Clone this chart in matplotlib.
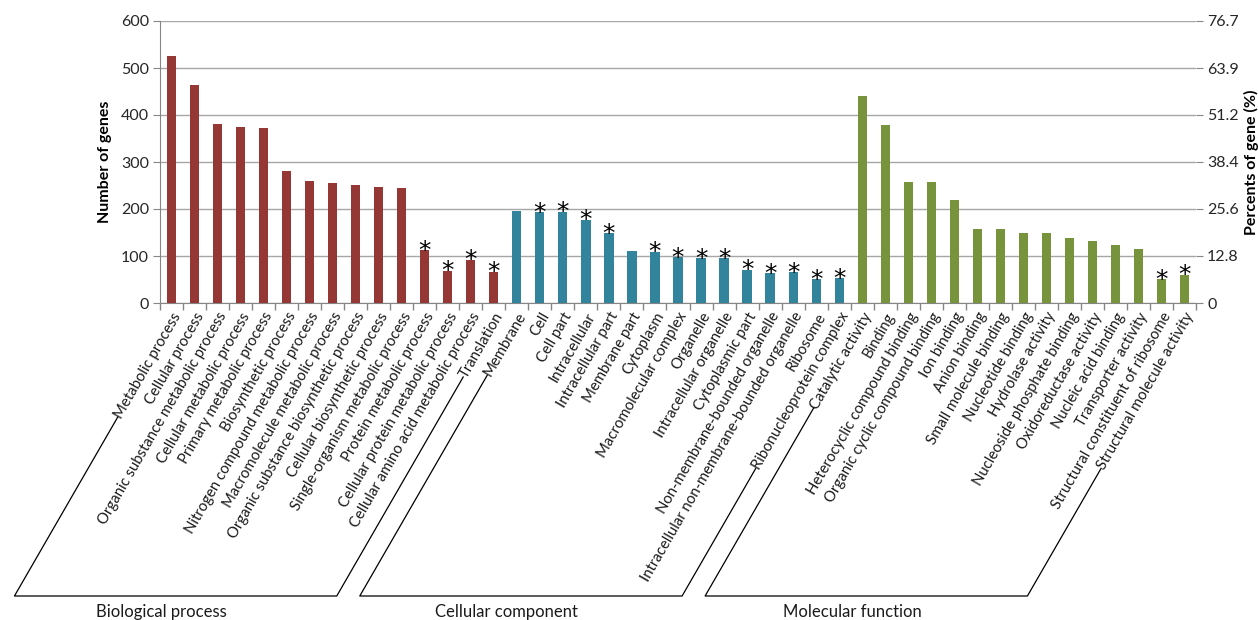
import matplotlib
matplotlib.use("Agg")
import matplotlib.pyplot as plt
from matplotlib.lines import Line2D
import numpy as np

plt.rcParams['font.family'] = ['Lato', 'DejaVu Sans']

# GO categories and gene counts
bp_terms = ["Metabolic process", "Cellular process", "Organic substance metabolic process",
            "Cellular metabolic process", "Primary metabolic process", "Biosynthetic process",
            "Nitrogen compound metabolic process", "Macromolecule metabolic process",
            "Organic substance biosynthetic process", "Cellular biosynthetic process",
            "Single-organism metabolic process", "Protein metabolic process",
            "Cellular protein metabolic process", "Cellular amino acid metabolic process",
            "Translation"]
bp_counts = [526, 463, 380, 374, 372, 280, 259, 256, 252, 246, 244, 112, 69, 92, 67]
bp_signif = [False] * 11 + [True] * 4

cc_terms = ["Membrane", "Cell", "Cell part", "Intracellular", "Intracellular part",
            "Membrane part", "Cytoplasm", "Macromolecular complex", "Organelle",
            "Intracellular organelle", "Cytoplasmic part", "Non-membrane-bounded organelle",
            "Intracellular non-membrane-bounded organelle", "Ribosome",
            "Ribonucleoprotein complex"]
cc_counts = [196, 193, 194, 177, 149, 111, 109, 98, 95, 96, 71, 64, 65, 51, 53]
cc_signif = [False, True, True, True, True, False, True, True, True, True,
             True, True, True, True, True]

mf_terms = ["Catalytic activity", "Binding", "Heterocyclic compound binding",
            "Organic cyclic compound binding", "Ion binding", "Anion binding",
            "Small molecule binding", "Nucleotide binding", "Hydrolase activity",
            "Nucleoside phosphate binding", "Oxidoreductase activity",
            "Nucleic acid binding", "Transporter activity",
            "Structural constituent of ribosome", "Structural molecule activity"]
mf_counts = [440, 379, 257, 257, 220, 158, 157, 148, 148, 139, 132, 124, 115, 51, 60]
mf_signif = [False] * 13 + [True, True]

group_names = ["Biological process", "Cellular component", "Molecular function"]
group_colors = ["#953735", "#31849B", "#77933C"]

left_ticks = [0, 100, 200, 300, 400, 500, 600]
right_ticks = [0, 12.8, 25.6, 38.4, 51.2, 63.9, 76.7]
right_tick_labels = ["0", "12.8", "25.6", "38.4", "51.2", "63.9", "76.7"]

groups = [(bp_terms, bp_counts, bp_signif),
          (cc_terms, cc_counts, cc_signif),
          (mf_terms, mf_counts, mf_signif)]

W, H = 1258, 620
fig = plt.figure(figsize=(W / 100, H / 100), dpi=100)
ax = fig.add_axes([160 / W, 1 - 303 / H, (1196 - 160) / W, (303 - 21) / H])

grid_c = "#a6a6a6"
axis_c = "#868686"
text_c = "#1a1a1a"

terms_all, colors_all, counts_all, sig_all = [], [], [], []
for (terms, counts, sig), c in zip(groups, group_colors):
    terms_all += terms
    counts_all += counts
    sig_all += sig
    colors_all += [c] * len(terms)

x = np.arange(len(terms_all))
ax.bar(x, counts_all, width=0.4, color=colors_all, zorder=3)

for xi, v, s in zip(x, counts_all, sig_all):
    if s:
        ax.annotate("*", (xi, v), xytext=(0, -5.5), textcoords="offset points",
                    ha="center", va="baseline", fontsize=18, color="black",
                    family="DejaVu Sans", zorder=4)

ax.set_xlim(-0.5, len(terms_all) - 0.5)
ax.set_ylim(0, 600)
ax.set_yticks(left_ticks)
ax.yaxis.grid(True, color=grid_c, linewidth=1.0, zorder=0)
ax.tick_params(axis="y", labelsize=11.5, length=5, color=axis_c, pad=3, labelcolor="#262626")

ax.set_xticks(np.arange(-0.5, len(terms_all), 1.0))
ax.set_xticklabels([])
ax.tick_params(axis="x", which="major", length=5, color=axis_c, width=1.0)
ax.set_xticks(x, minor=True)
ax.set_xticklabels(terms_all, minor=True, rotation=60, ha="right",
                   rotation_mode="anchor", va="top", fontsize=10.7, color=text_c)
ax.tick_params(axis="x", which="minor", length=0, pad=5)

for side in ["top", "right"]:
    ax.spines[side].set_visible(False)
ax.spines["left"].set_color(axis_c)
ax.spines["bottom"].set_color(axis_c)

ax.set_ylabel("Number of genes", fontsize=11.5, fontweight="bold", labelpad=6)

ax2 = ax.twinx()
ax2.set_ylim(0, 76.7)
ax2.set_yticks(right_ticks)
ax2.set_yticklabels(right_tick_labels)
ax2.tick_params(axis="y", labelsize=11.5, length=5, color=axis_c, pad=3, labelcolor="#262626")
for side in ["top", "left", "bottom", "right"]:
    ax2.spines[side].set_visible(False)
ax2.set_ylabel("Percents of gene (%)", fontsize=11.5, fontweight="bold", labelpad=4)

# Group brackets drawn along the slant of the rotated category labels
fig.canvas.draw()
renderer = fig.canvas.get_renderer()
labels = ax.get_xticklabels(minor=True)
ang = np.deg2rad(60)
y_base = H - 596
to_fig = fig.transFigure.inverted()


def label_end(t):
    bb = t.get_window_extent(renderer)
    hh = np.sqrt(3) * bb.width - bb.height
    return bb.x0 + 0.433 * hh, bb.y0 + 0.25 * hh


start = 0
for (terms, _, _), name in zip(groups, group_names):
    first = labels[start]
    last = labels[start + len(terms) - 1]
    start += len(terms)
    x1, y1 = label_end(first)
    x2, y2 = label_end(last)
    b1 = x1 - (y1 - y_base) / np.tan(ang)
    b2 = x2 - (y2 - y_base) / np.tan(ang)
    pts = np.array([[x1, y1], [b1, y_base], [b2, y_base], [x2, y2]])
    fp = to_fig.transform(pts)
    fig.add_artist(Line2D(fp[:, 0], fp[:, 1], color="black", linewidth=0.9,
                          transform=fig.transFigure))
    cx = to_fig.transform([((b1 + b2) / 2 - 14, y_base - 16)])[0]
    fig.text(cx[0], cx[1], name, ha="center", va="center", fontsize=12, color=text_c)

fig.savefig("out.png", dpi=100)
